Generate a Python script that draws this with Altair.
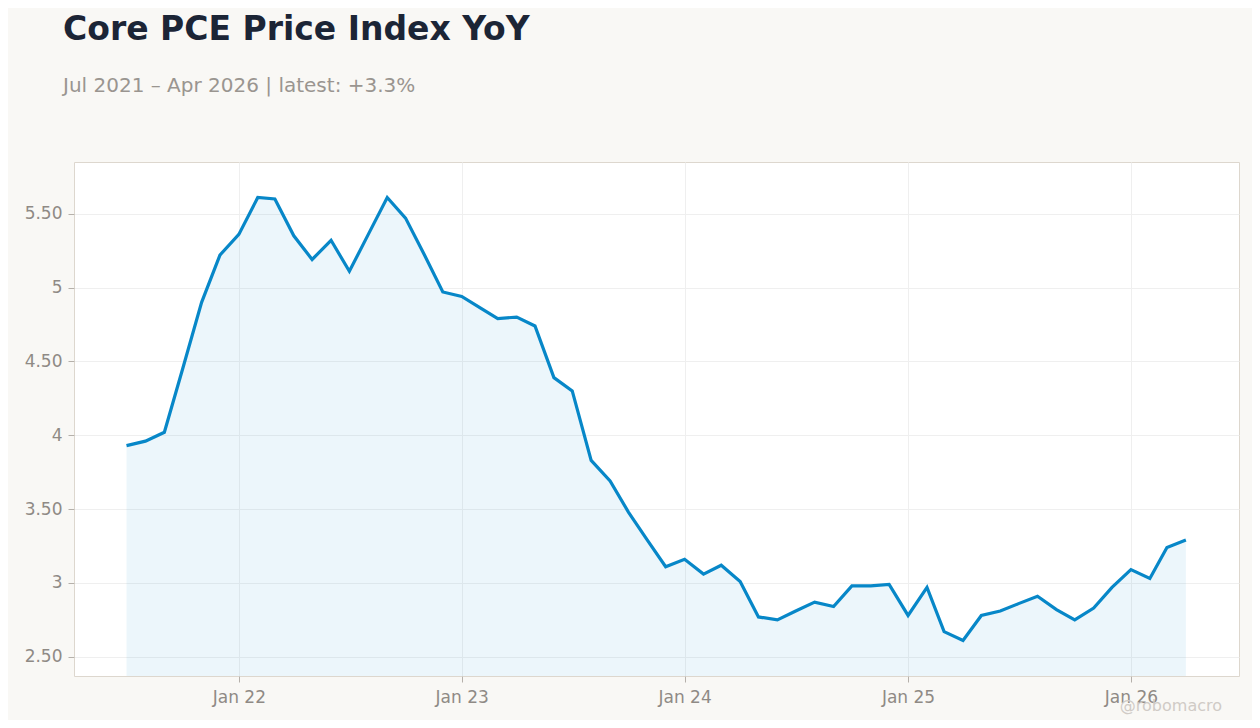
import altair as alt
import pandas as pd

# monthly core PCE YoY, Jul 2021 .. Apr 2026
months = pd.date_range("2021-07-01", "2026-04-01", freq="MS").strftime("%Y-%m-%d").tolist()
values = [
    3.93, 3.96, 4.02, 4.45, 4.90, 5.22, 5.36, 5.61, 5.60, 5.35, 5.19, 5.32,
    5.11, 5.36, 5.61, 5.47, 5.22, 4.97, 4.94, 4.86, 4.79, 4.80, 4.74, 4.39,
    4.30, 3.83, 3.69, 3.48, 3.29, 3.11, 3.16, 3.06, 3.12, 3.01, 2.77, 2.75,
    2.81, 2.87, 2.84, 2.98, 2.98, 2.99, 2.78, 2.97, 2.67, 2.61, 2.78, 2.81,
    2.86, 2.91, 2.82, 2.75, 2.83, 2.97, 3.09, 3.03, 3.24, 3.29,
]
y_ticks = [2.5, 3, 3.5, 4, 4.5, 5, 5.5]
x_ticks = ["2022-01-01", "2023-01-01", "2024-01-01", "2025-01-01", "2026-01-01"]

df = pd.DataFrame({"date": months, "value": values})

W, H = 1165, 514
BLUE = "#0787c8"

x = alt.X(
    "date:T",
    title=None,
    scale=alt.Scale(domain=["2021-04-06", "2026-06-27"]),
    axis=alt.Axis(
        values=x_ticks, format="%b %y", labelFlush=False,
        tickSize=6, labelPadding=7, domain=False,
    ),
)
y = alt.Y(
    "value:Q",
    title=None,
    scale=alt.Scale(domain=[2.37, 5.85], zero=False, nice=False),
    axis=alt.Axis(
        values=y_ticks, tickSize=6, labelPadding=6, domain=False,
        labelExpr="datum.value % 1 == 0 ? format(datum.value, 'd') : format(datum.value, '.2f')",
    ),
)

base = alt.Chart(df).encode(x=x, y=y)

area = base.mark_area(color=BLUE, opacity=0.08, clip=True)
line = base.mark_line(color=BLUE, strokeWidth=3.2, strokeJoin="miter")

mark = alt.Chart(pd.DataFrame({"t": ["@robomacro"]})).mark_text(
    align="right", baseline="alphabetic", fontSize=16, color="#d0cbc6",
    font="DejaVu Sans",
).encode(text="t:N", x=alt.value(1148), y=alt.value(549))

chart = (
    alt.layer(area, line, mark)
    .properties(
        width=W,
        height=H,
        autosize=alt.AutoSizeParams(type="none"),
        padding={"left": 66, "top": 154, "right": 13, "bottom": 44},
        background="#f9f8f5",
        title=alt.Title(
            "Core PCE Price Index YoY",
            subtitle="Jul 2021 – Apr 2026 | latest: +3.3%",
            anchor="start", frame="group", dx=-11, offset=66,
            font="DejaVu Sans", fontSize=33, fontWeight="bold", color="#1c2536",
            subtitleFont="DejaVu Sans", subtitleFontSize=20, subtitleColor="#9a9590",
            subtitlePadding=29,
        ),
    )
    .configure_view(fill="white", stroke="#ddd7ce", strokeWidth=1)
    .configure_axis(
        labelFont="DejaVu Sans", labelFontSize=17, labelColor="#8f8a85",
        tickColor="#b5b0aa", gridColor="#efefef", gridWidth=1,
    )
)

chart.save("out.html", embed_options={"renderer": "svg", "actions": False})
